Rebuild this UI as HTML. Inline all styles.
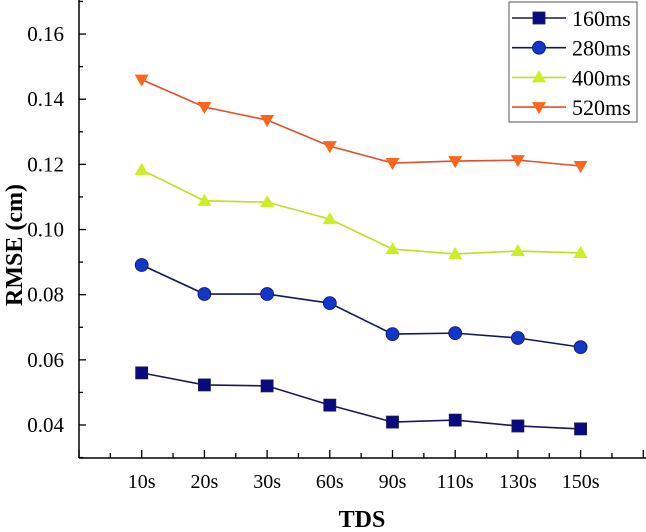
<!DOCTYPE html>
<html><head><meta charset="utf-8"><style>
body{margin:0;background:#fff}
svg{display:block;font-family:"Liberation Serif",serif}
</style></head><body>
<svg width="646" height="532">
<g id="axes"></g><g id="series"></g><g id="legend"></g>
<text x="362" y="527" text-anchor="middle" font-weight="bold" font-size="24">TDS</text>
<text transform="translate(22,245) rotate(-90)" text-anchor="middle" font-weight="bold" font-size="24">RMSE (cm)</text>
</svg>
<script>
const categories=["10s","20s","30s","60s","90s","110s","130s","150s"];
const seriesNames=["160ms","280ms","400ms","520ms"];
const s160=[0.0560,0.0523,0.0520,0.0461,0.0409,0.0415,0.0397,0.0388];
const s280=[0.0891,0.0802,0.0802,0.0774,0.0679,0.0682,0.0667,0.0639];
const s400=[0.1183,0.1088,0.1084,0.1032,0.0940,0.0925,0.0934,0.0928];
const s520=[0.1460,0.1376,0.1336,0.1256,0.1204,0.1210,0.1213,0.1195];
const yTicks=[0.04,0.06,0.08,0.10,0.12,0.14,0.16];
const NS="http://www.w3.org/2000/svg";
const X0=79,DX=62.7,AXY=458;
const xs=i=>X0+(i+1)*DX;
const ys=v=>425-(v-0.04)*3258;
function mk(t,a,p){const e=document.createElementNS(NS,t);for(const k in a)e.setAttribute(k,a[k]);p.appendChild(e);return e;}
const ax=document.getElementById('axes');
let e=mk('line',{x1:X0,y1:0,x2:X0,y2:AXY,stroke:'#000','stroke-width':1.5},ax);

e=mk('line',{x1:X0,y1:AXY,x2:646,y2:AXY,stroke:'#000','stroke-width':1.5},ax);

for(let v=0.03;v<=0.171;v+=0.01){const y=ys(v);const major=yTicks.some(t=>Math.abs(t-v)<1e-6);mk('line',{x1:X0,y1:y,x2:X0+(major?7:4),y2:y,stroke:'#000','stroke-width':1.3},ax);}
yTicks.forEach(v=>{const t=mk('text',{x:64,y:ys(v)+7,'text-anchor':'end','font-size':21},ax);t.textContent=v.toFixed(2);
});
for(let k=0;k<=18;k++){const x=X0+k*DX/2;mk('line',{x1:x,y1:AXY,x2:x,y2:AXY-(k%2?5:8),stroke:'#000','stroke-width':1.3},ax);}
categories.forEach((c,i)=>{const t=mk('text',{x:xs(i),y:488,'text-anchor':'middle','font-size':20},ax);t.textContent=c;
});
const styles=[
{d:s160,line:'#1a1a50',fill:'#0a0a80',m:'sq'},
{d:s280,line:'#101860',fill:'#1436c8',m:'ci'},
{d:s400,line:'#bde020',fill:'#ccee22',m:'up'},
{d:s520,line:'#e0502a',fill:'#ff6418',m:'dn'}];
function marker(g,m,x,y,f,st){let el;
if(m=='sq')el=mk('rect',{x:x-6,y:y-6,width:12,height:12,fill:f,stroke:st,'stroke-width':0.8},g);
else if(m=='ci')el=mk('circle',{cx:x,cy:y,r:6.5,fill:f,stroke:st,'stroke-width':0.8},g);
else if(m=='up')el=mk('polygon',{points:`${x},${y-7} ${x-7},${y+5} ${x+7},${y+5}`,fill:f},g);
else el=mk('polygon',{points:`${x},${y+7} ${x-7},${y-5} ${x+7},${y-5}`,fill:f},g);
return el;}
const sg=document.getElementById('series');
styles.forEach((s,k)=>{const g=mk('g',{},sg);

mk('polyline',{points:s.d.map((v,i)=>xs(i)+','+ys(v)).join(' '),fill:'none',stroke:s.line,'stroke-width':1.6},g);
s.d.forEach((v,i)=>{const p=marker(g,s.m,xs(i),ys(v),s.fill,s.line);
});});
const lg=document.getElementById('legend');

mk('rect',{x:509,y:2,width:128,height:120,fill:'#fff',stroke:'#555','stroke-width':1},lg);
styles.forEach((s,k)=>{const y=18+k*29.7;const g=mk('g',{},lg);

mk('line',{x1:512,y1:y,x2:566,y2:y,stroke:s.line,'stroke-width':1.6},g);
marker(g,s.m,539,y,s.fill,s.line);
const t=mk('text',{x:572,y:y+8,'font-size':22},g);t.textContent=seriesNames[k];});
</script>
</body></html>
